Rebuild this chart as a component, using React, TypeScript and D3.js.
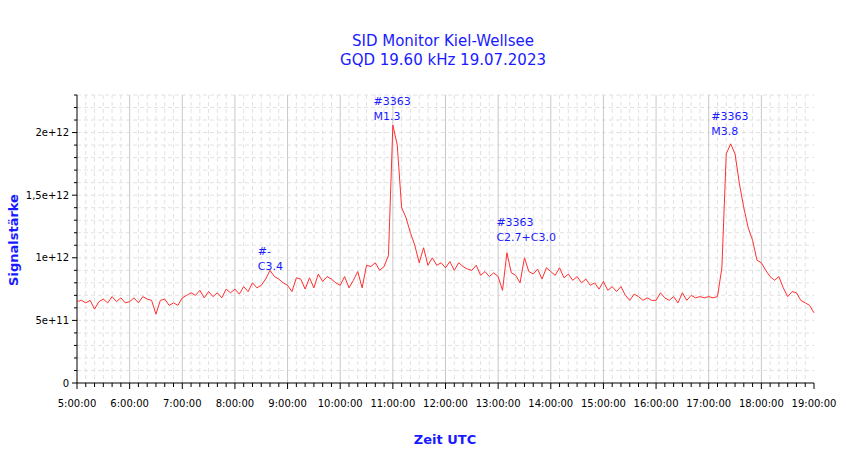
import * as d3 from "d3";
import { useEffect, useRef } from "react";

// signal in units of 1e11, one value every 5 minutes from 5:00 to 19:00
const signal: number[] = [
  6.5, 6.6, 6.4, 6.6, 5.9, 6.5, 6.7, 6.4, 6.9, 6.5, 6.8, 6.4,
  6.5, 6.8, 6.4, 6.9, 6.7, 6.6, 5.5, 6.6, 6.7, 6.2, 6.4, 6.2,
  6.8, 7.0, 7.2, 7.0, 7.4, 6.8, 7.3, 6.9, 7.2, 6.8, 7.5, 7.2,
  7.5, 7.1, 7.7, 7.3, 8.0, 7.6, 7.8, 8.3, 9.0, 8.5, 8.3, 8.0,
  7.8, 7.3, 8.4, 8.3, 7.5, 8.4, 7.6, 8.7, 8.1, 8.5, 8.3, 8.0,
  7.8, 8.5, 7.6, 8.2, 8.9, 7.6, 9.4, 9.3, 9.6, 9.0, 9.3, 10.2,
  20.6, 19.0, 14.0, 13.2, 12.0, 11.0, 9.6, 10.8, 9.4, 10.0, 9.4, 9.6,
  9.2, 9.7, 9.0, 9.6, 9.3, 9.1, 9.0, 9.4, 8.6, 8.9, 8.5, 8.8,
  8.5, 7.4, 10.4, 8.8, 8.6, 8.0, 10.0, 8.9, 8.7, 9.1, 8.3, 9.2,
  8.9, 8.6, 9.2, 8.4, 8.7, 8.2, 8.5, 8.0, 8.3, 7.8, 8.0, 7.5,
  8.1, 7.4, 7.7, 7.3, 7.7, 7.0, 6.6, 7.1, 6.9, 6.6, 6.8, 6.6,
  6.6, 7.2, 6.8, 6.6, 6.9, 6.4, 7.2, 6.6, 7.0, 6.8, 6.9, 6.8,
  6.9, 6.8, 6.9, 9.2, 18.3, 19.1, 18.3, 15.9, 14.0, 12.4, 11.4, 9.8,
  9.6, 9.0, 8.5, 8.2, 8.5, 7.6, 6.9, 7.3, 7.2, 6.6, 6.4, 6.2,
  5.6,
];

const yTicks = [0, 5, 10, 15, 20];
const yTickLabels = ["0", "5e+11", "1e+12", "1,5e+12", "2e+12"];
const hourTicks = d3.range(5, 20);

// annotations: time (hours), level (1e11), two lines
const notes = [
  { t: 8 + 26 / 60, v: 10.2, l1: "#-", l2: "C3.4" },
  { t: 10 + 38 / 60, v: 22.2, l1: "#3363", l2: "M1.3" },
  { t: 12 + 58 / 60, v: 12.5, l1: "#3363", l2: "C2.7+C3.0" },
  { t: 17 + 3 / 60, v: 21.0, l1: "#3363", l2: "M3.8" },
];

export default function App() {
  const ref = useRef<SVGSVGElement | null>(null);

  useEffect(() => {
    const width = 850, height = 459;
    const m = { left: 77, right: 36, top: 95, bottom: 76 };
    const svg = d3.select(ref.current);
    svg.selectAll("*").remove();
    svg.attr("width", width).attr("height", height);

    const x = d3.scaleLinear().domain([5, 19]).range([m.left, width - m.right]);
    const y = d3.scaleLinear().domain([0, 23]).range([height - m.bottom, m.top]);
    const font = "Tahoma, 'DejaVu Sans', sans-serif";

    // grid
    const g = svg.append("g");
    d3.range(1, 24).forEach(i => {
      g.append("line").attr("x1", x(5)).attr("x2", x(19))
        .attr("y1", y(i)).attr("y2", y(i))
        .attr("stroke", "#e2e2e2").attr("stroke-dasharray", "4,3");
    });
    d3.range(1, 84).forEach(i => {
      const t = 5 + i / 6;
      const isHour = i % 6 === 0;
      g.append("line").attr("x1", x(t)).attr("x2", x(t))
        .attr("y1", y(23)).attr("y2", y(0))
        .attr("stroke", isHour ? "#c8c8c8" : "#e2e2e2")
        .attr("stroke-dasharray", isHour ? null : "4,3");
    });

    // axes
    const ax = svg.append("g").attr("font-family", font).attr("font-size", 10);
    ax.append("line").attr("x1", x(5)).attr("x2", x(5)).attr("y1", y(23)).attr("y2", y(0)).attr("stroke", "#000");
    ax.append("line").attr("x1", x(5)).attr("x2", x(19)).attr("y1", y(0)).attr("y2", y(0)).attr("stroke", "#000");
    d3.range(0, 24).forEach(i => {
      const major = i % 5 === 0;
      ax.append("line").attr("x1", x(5) - (major ? 5 : 3)).attr("x2", x(5))
        .attr("y1", y(i)).attr("y2", y(i)).attr("stroke", "#000");
    });
    yTicks.forEach((v, i) => {
      ax.append("text").attr("x", x(5) - 8).attr("y", y(v) + 3.5)
        .attr("text-anchor", "end").text(yTickLabels[i]);
    });
    d3.range(0, 85).forEach(i => {
      const major = i % 6 === 0;
      ax.append("line").attr("x1", x(5 + i / 6)).attr("x2", x(5 + i / 6))
        .attr("y1", y(0)).attr("y2", y(0) + (major ? 6 : 4)).attr("stroke", "#000");
    });
    hourTicks.forEach(h => {
      ax.append("text").attr("x", x(h)).attr("y", y(0) + 24)
        .attr("text-anchor", "middle").text(`${h}:00:00`);
    });

    // line
    const line = d3.line<number>().x((_, i) => x(5 + i / 12)).y(d => y(d));
    svg.append("path").datum(signal).attr("d", line)
      .attr("fill", "none").attr("stroke", "#ff3030").attr("stroke-width", 1);

    // annotations
    const an = svg.append("g").attr("font-family", font).attr("font-size", 11).attr("fill", "#1a1aff");
    notes.forEach(n => {
      an.append("text").attr("x", x(n.t)).attr("y", y(n.v)).text(n.l1);
      an.append("text").attr("x", x(n.t)).attr("y", y(n.v) + 15).text(n.l2);
    });

    // titles
    const tt = svg.append("g").attr("font-family", font).attr("fill", "#1a1aff").attr("text-anchor", "middle");
    tt.append("text").attr("x", 443).attr("y", 46).attr("font-size", 15).text("SID Monitor Kiel-Wellsee");
    tt.append("text").attr("x", 443).attr("y", 65).attr("font-size", 15).text("GQD 19.60 kHz 19.07.2023");
    tt.append("text").attr("x", 445).attr("y", 444).attr("font-size", 13).attr("font-weight", "bold").text("Zeit UTC");
    tt.append("text").attr("transform", "translate(18,240) rotate(-90)").attr("font-size", 13)
      .attr("font-weight", "bold").text("Signalstärke");
  }, []);

  return <svg ref={ref} style={{ position: "absolute", left: 0, top: 0 }}></svg>;
}
